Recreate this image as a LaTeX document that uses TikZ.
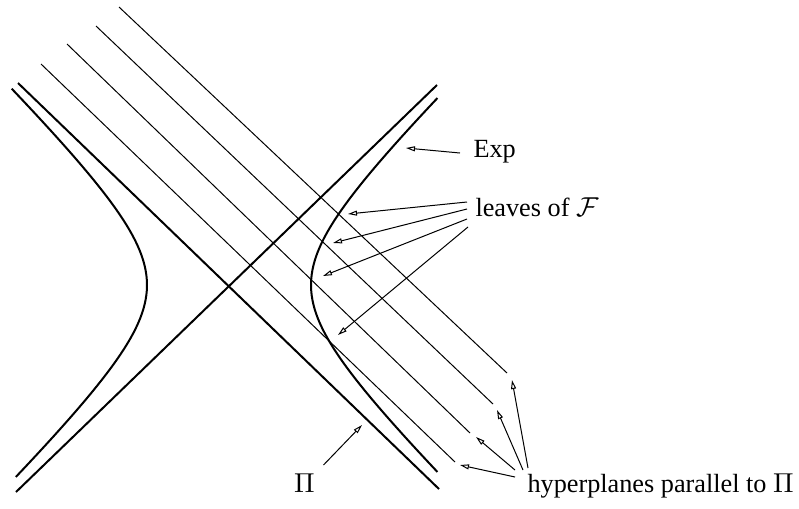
\documentclass[tikz,border=0pt]{standalone}
\usepackage{fontspec}
\setmainfont{Liberation Serif}
\usetikzlibrary{arrows.meta}
\begin{document}
\begin{tikzpicture}[x=0.4pt,y=-0.4pt,>={Triangle[open,length=3.6pt,width=2pt]},
  lbl/.style={inner sep=0pt,font=\fontsize{10.5}{12}\selectfont}]
\useasboundingbox (0,0) rectangle (799,508);
\draw[thick] (18,83)--(439,489);
\draw[thick] (16,492)--(437,85);
\draw[thick] plot[domain=-1.585:1.585,samples=60,variable=\t] ({229+82*cosh(\t)},{285+80*sinh(\t)});
\draw[thick] plot[domain=-1.63:1.61,samples=60,variable=\t] ({229-82*cosh(\t)},{285+80*sinh(\t)});
\foreach \a/\b/\c/\d in {41/64/455/462,67/44/470/433,96/26/493/404,119/7/507/373}{
  \draw (\a,\b)--(\c,\d);
}
\node[lbl,anchor=west] (exp) at (473,152) {Exp};
\node[lbl,anchor=west] (leaves) at (475,207) {leaves of $\mathcal{F}$};
\node[lbl] (pi) at (304.5,483) {$\Pi$};
\node[lbl,anchor=west] (hyper) at (527,486) {hyperplanes parallel to $\Pi$};
\coordinate (exptip) at (406,148);
\draw[->] ([shift={(-13,1)}]exp.west) -- (exptip);
\foreach \i/\sx/\sy/\x/\y in {1/-8/-5/348/214,2/-8/2/333/243,3/-8/12/323/276,4/-7/20/338/335}{
  \coordinate (leaf\i) at (\x,\y);
  \draw[->] ([shift={(\sx,\sy)}]leaves.west) -- (leaf\i);
}
\coordinate (pitip) at (362,425);
\draw[->] ([shift={(19,-18)}]pi.center) -- (pitip);
\foreach \i/\sx/\sy/\x/\y in {1/-12/-9/460/465,2/-12/-16/476/437,3/-4/-16/497/410,4/1/-18/512/380}{
  \coordinate (hyp\i) at (\x,\y);
  \draw[->] ([shift={(\sx,\sy)}]hyper.west) -- (hyp\i);
}
\end{tikzpicture}
\end{document}
